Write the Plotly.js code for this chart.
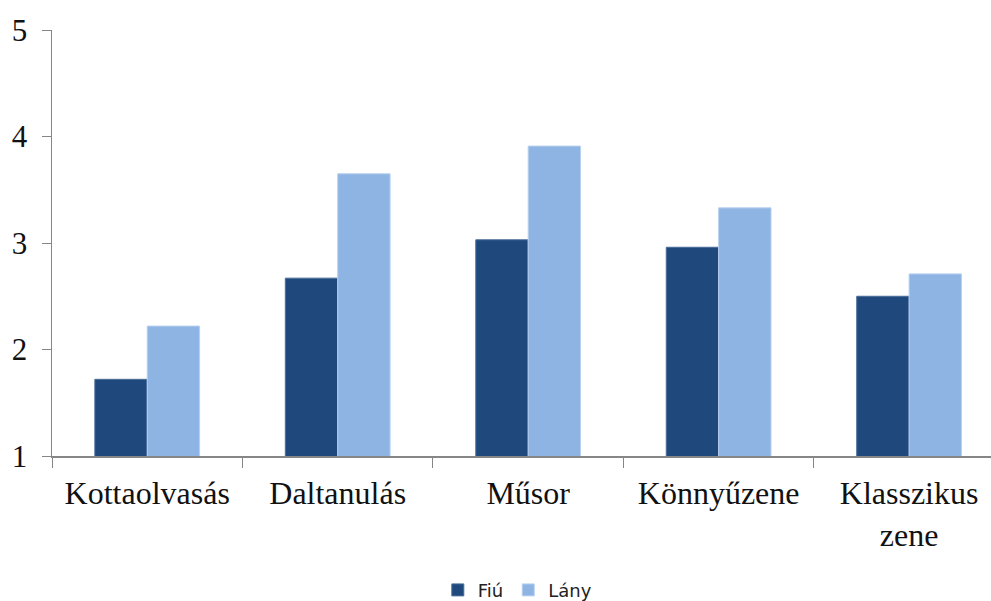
<!DOCTYPE html>
<html>
<head>
<meta charset="utf-8">
<script src="https://cdn.plot.ly/plotly-3.0.1.min.js"></script>
<style>html,body{margin:0;padding:0;background:#fff;overflow:hidden}</style>
</head>
<body>
<div id="chart" style="width:991px;height:601px"></div>
<script>
const categories = ["Kottaolvasás", "Daltanulás", "Műsor", "Könnyűzene", "Klasszikus<br>zene"];
const fiuValues = [1.72, 2.67, 3.03, 2.96, 2.50];
const lanyValues = [2.22, 3.65, 3.91, 3.33, 2.71];
const seriesNames = ["Fiú", "Lány"];
const yTicks = [1, 2, 3, 4, 5];

const data = [
  {type: "bar", name: seriesNames[0], x: categories, y: fiuValues,
   marker: {color: "#1f497d", line: {color: "#4a6d99", width: 1}}},
  {type: "bar", name: seriesNames[1], x: categories, y: lanyValues,
   marker: {color: "#8eb4e3", line: {color: "#b9d1ef", width: 1}}}
];

const layout = {
  width: 991, height: 601,
  margin: {l: 52, r: 0, t: 30, b: 145, autoexpand: false},
  paper_bgcolor: "#fff", plot_bgcolor: "#fff",
  barmode: "group", bargap: 0.45, bargroupgap: 0,
  showlegend: true,
  legend: {orientation: "h", xref: "container", x: 0.522, xanchor: "center",
           yref: "container", y: 0.018, yanchor: "middle",
           font: {family: "DejaVu Sans", size: 18, color: "#222"}, itemwidth: 30, tracegroupgap: 0},
  xaxis: {
    type: "category", range: [-0.5, 4.43], tickson: "boundaries", automargin: false,
    ticks: "outside", ticklen: 10, tickcolor: "#868686", tickwidth: 1,
    showline: true, linecolor: "#868686", linewidth: 1.5,
    showgrid: false, zeroline: false, ticklabelstandoff: 8,
    tickfont: {family: "Liberation Serif", size: 32, color: "#111"}
  },
  yaxis: {
    range: [1, 5], tickvals: yTicks, automargin: false,
    ticks: "outside", ticklen: 9, tickcolor: "#868686", tickwidth: 1,
    showline: true, linecolor: "#868686", linewidth: 1.5,
    showgrid: false, zeroline: false, ticklabelstandoff: 8,
    tickfont: {family: "Liberation Serif", size: 31, color: "#111"}
  }
};

Plotly.newPlot("chart", data, layout, {staticPlot: true, displayModeBar: false});
</script>
</body>
</html>
